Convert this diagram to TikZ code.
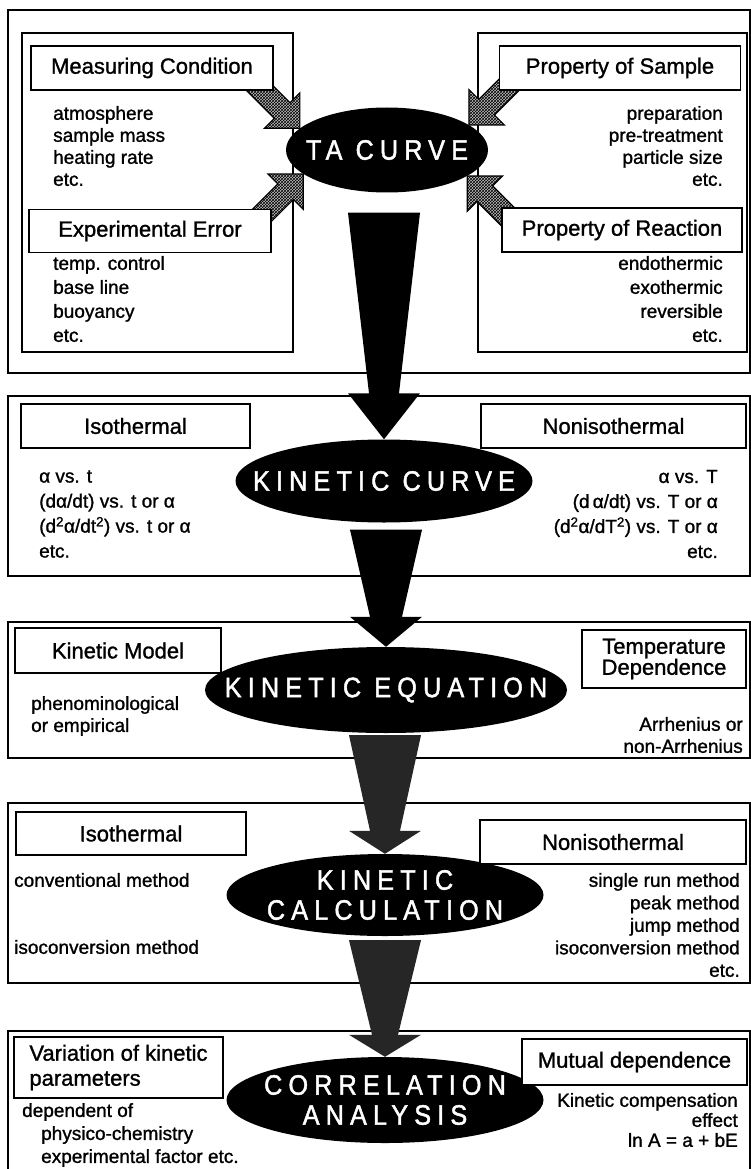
\documentclass[tikz,border=0pt]{standalone}
\usepackage{fontspec}
\setmainfont[FakeBold=1.2]{Liberation Sans}
\newfontfamily\ovalfont[FakeStretch=0.9,LetterSpace=22,FakeBold=1.6]{Liberation Sans}
\usetikzlibrary{shapes.geometric}
\usetikzlibrary{calc,patterns}

\newcommand{\hdrfont}{\fontsize{22}{25}\selectfont}
\newcommand{\txtfont}{\fontsize{19}{22}\selectfont}
\newcommand{\ovalfnt}{\ovalfont\fontsize{28}{30}\selectfont}

\pgfdeclarelayer{bg}
\pgfsetlayers{bg,main}

% big tapered arrow: #1 source oval, #2 target oval, #3 gap, #4 half shaft, #5 head length, #6 fill
\newcommand{\flowarrow}[6]{%
  \fill[#6] let \p1=(#1.south), \p2=(#2.north) in
    (\x2-36pt,\y1-#3) -- (\x2+36pt,\y1-#3) -- (\x2+#4,\y2+#5) -- (\x2+36pt,\y2+#5)
    -- (\x2,\y2) -- (\x2-36pt,\y2+#5) -- (\x2-#4,\y2+#5) -- cycle;}

\begin{document}
\begin{tikzpicture}[x=1pt, y=-1pt,
  hdr/.style={draw, line width=1.4pt, fill=white, inner sep=0pt, font=\hdrfont, align=center},
  txt/.style={inner sep=0pt, font=\txtfont},
  oval/.style={ellipse, fill=black, text=white, inner sep=0pt, font=\ovalfnt, align=center},
  frame/.style={line width=1.4pt},
  feed/.style={draw, line width=1.2pt, preaction={fill=black!25}, pattern=crosshatch, pattern color=black},
  feed arrow/.pic={\path[feed] (-75,-11) -- (-25,-11) -- (-25,-25) -- (0,0) -- (-25,25) -- (-25,11) -- (-75,11) -- cycle;}
]
\useasboundingbox (0,0) rectangle (751,1169);

% TA curve block
\node[oval, minimum width=202pt, minimum height=85pt] (tacurve) at (387,150) {\makebox[0pt]{TA CURVE}};
\node[hdr, minimum width=242pt, minimum height=44pt] (mcond)   at (152,68)  {Measuring Condition};
\node[hdr, minimum width=241pt, minimum height=44pt] (psample) at (620,68)  {Property of Sample};
\node[hdr, minimum width=242pt, minimum height=43pt] (experr)  at (150,231) {Experimental Error};
\node[hdr, minimum width=240pt, minimum height=44pt] (preact)  at (622,230) {Property of Reaction};
\node[txt, anchor=west, align=left]  (mcondlist)   at (53,146)  {atmosphere\\sample mass\\heating rate\\etc.};
\node[txt, anchor=east, align=right] (psamplelist) at (723,146) {preparation\\pre-treatment\\particle size\\etc.};
\node[txt, anchor=west, align=left, font={\fontsize{19}{24}\selectfont}]  (experrlist) at (53,299)  {temp. control\\base line\\buoyancy\\etc.};
\node[txt, anchor=east, align=right, font={\fontsize{19}{24}\selectfont}] (preactlist) at (723,299) {endothermic\\exothermic\\reversible\\etc.};

% kinetic curve block
\node[oval, minimum width=297pt, minimum height=83pt] (kcurve) at (384,481) {\makebox[0pt]{KINETIC CURVE}};
\node[hdr, minimum width=229pt, minimum height=44pt] (isoA)    at (135.5,426) {Isothermal};
\node[hdr, minimum width=265pt, minimum height=44pt] (nonisoA) at (613.5,426) {Nonisothermal};
\node[txt, anchor=west, align=left, font={\fontsize{19}{25}\selectfont}] (isolistA) at (39,514)
  {α vs. t\\(dα/dt) vs. t or α\\(d\textsuperscript{2}α/dt\textsuperscript{2}) vs. t or α\\etc.};
\node[txt, anchor=east, align=right, font={\fontsize{19}{25}\selectfont}] (nonisolistA) at (718,514)
  {α vs. T\\(d\,α/dt) vs. T or α\\(d\textsuperscript{2}α/dT\textsuperscript{2}) vs. T or α\\etc.};

% kinetic equation block
\node[oval, minimum width=362pt, minimum height=86pt] (keq) at (386,690) {\makebox[0pt]{KINETIC EQUATION}};
\node[hdr, minimum width=206pt, minimum height=45pt] (kinmodel) at (118,650.5) {Kinetic Model};
\node[hdr, minimum width=164pt, minimum height=58pt, font={\fontsize{22}{21}\selectfont}] (tempdep) at (664,659) {Temperature\\Dependence};
\node[txt, anchor=west, align=left]  (modellist) at (31,716)  {phenominological\\or empirical};
\node[txt, anchor=east, align=right] (deplist)   at (743,735) {Arrhenius or\\non-Arrhenius};

% kinetic calculation block
\node[oval, minimum width=317pt, minimum height=82pt] (kcalc) at (385,895) {\makebox[0pt]{KINETIC}\\\makebox[0pt]{CALCULATION}};
\node[hdr, minimum width=230pt, minimum height=43pt] (isoB)    at (131,833.5) {Isothermal};
\node[hdr, minimum width=266pt, minimum height=44pt] (nonisoB) at (613,842)   {Nonisothermal};
\node[txt, anchor=west] (conv)    at (14,880) {conventional method};
\node[txt, anchor=west] (isoconv) at (14,947) {isoconversion method};
\node[txt, anchor=east, align=right, font={\fontsize{19}{22.5}\selectfont}] (methodlist) at (740,925)
  {single run method\\peak method\\jump method\\isoconversion method\\etc.};

% correlation block
\node[oval, minimum width=317pt, minimum height=86pt] (corr) at (385,1100) {\makebox[0pt]{CORRELATION}\\\makebox[0pt]{ANALYSIS}};
\node[hdr, minimum width=209pt, minimum height=61pt, align=left, font={\fontsize{22}{25}\selectfont}] (variation) at (118.5,1067.5) {Variation of kinetic\\parameters};
\node[hdr, minimum width=225pt, minimum height=46pt] (mutual) at (634.5,1062) {Mutual dependence};
\node[txt, anchor=west, align=left, font={\fontsize{19}{23}\selectfont}] (varlist) at (22,1135)
  {dependent of\\\hspace*{19pt}physico-chemistry\\\hspace*{19pt}experimental factor etc.};
\node[txt, anchor=east, align=right, font={\fontsize{19}{20}\selectfont}] (mutuallist) at (738,1120)
  {Kinetic compensation\\effect\\ln A = a + bE};

% main flow
\flowarrow{tacurve}{kcurve}{20pt}{15pt}{46pt}{black}
\flowarrow{kcurve}{keq}{7pt}{16pt}{30pt}{black}
\flowarrow{keq}{kcalc}{2pt}{15pt}{23pt}{black!85}
\flowarrow{kcalc}{corr}{4pt}{13pt}{22pt}{black!85}

\begin{pgfonlayer}{bg}
  % section frames
  \foreach \top/\bot in {10/373, 396/576, 622/758, 803/983, 1031/1200}
    \draw[frame] (8,\top) rectangle (750,\bot);
  \draw[frame] (22,33) rectangle (293,352);
  \draw[frame] (478,33) rectangle (747,352);
  % hatched arrows into the TA curve
  \pic[rotate=-45]  at (tacurve.166) {feed arrow};
  \pic[rotate=45]   at (tacurve.196) {feed arrow};
  \pic[rotate=-135] at (tacurve.17)  {feed arrow};
  \pic[rotate=135]  at (tacurve.-18) {feed arrow};
\end{pgfonlayer}
\end{tikzpicture}
\end{document}
